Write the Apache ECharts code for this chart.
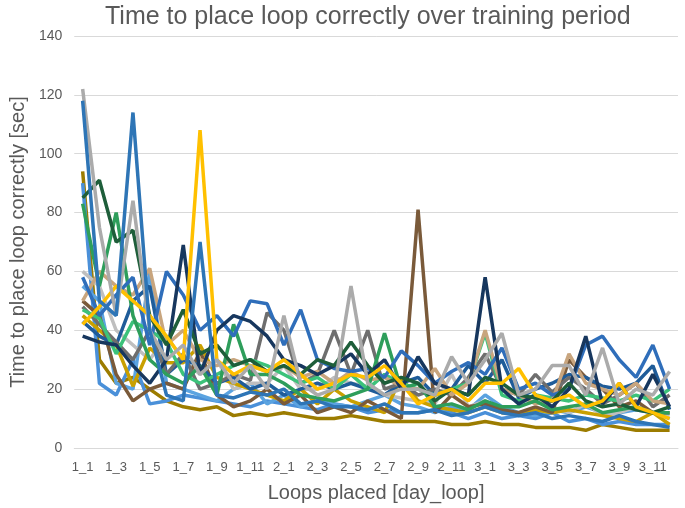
<!DOCTYPE html>
<html>
<head>
<meta charset="utf-8">
<script src="https://cdn.jsdelivr.net/npm/echarts@6/dist/echarts.min.js"></script>
<style>
    html, body { margin: 0; padding: 0; background: #fff; }
    #chart { width: 685px; height: 508px; }
</style>
</head>
<body>
<div id="chart"></div>
<script>
// categories: day_loop, 3 days x 12 loops
const days = [1, 2, 3]
const loops = [1, 2, 3, 4, 5, 6, 7, 8, 9, 10, 11, 12]
const categories = []
days.forEach((d) => loops.forEach((l) => categories.push(d + '_' + l)))

const yTicks = { min: 0, max: 140, interval: 20 }

// one array per participant (seconds)
const seriesNames = ['P1', 'P2', 'P3', 'P4', 'P5', 'P6', 'P7', 'P8', 'P9', 'P10', 'P11', 'P12', 'P13', 'P14', 'P15', 'P16', 'P17']
const seriesColors = ['#9C7C00', '#4A90D9', '#5BA3E0', '#BFBFBF', '#C9A000', '#7A5A3A', '#1F5C99', '#6E6E6E', '#3CC27A', '#C8A57E', '#2E9E5B', '#2F6EBA', '#17375E', '#1E5E3A', '#FFC000', '#ABABAB', '#2E75B6']
const p1 = [94, 30, 22, 24, 20, 16, 14, 13, 14, 11, 12, 11, 12, 11, 10, 10, 11, 10, 9, 9, 9, 9, 8, 8, 9, 8, 8, 7, 7, 7, 6, 8, 7, 6, 6, 6]
const p2 = [90, 22, 18, 30, 15, 16, 18, 17, 16, 15, 14, 16, 15, 14, 13, 15, 14, 12, 13, 12, 12, 13, 12, 10, 12, 10, 11, 10, 12, 9, 10, 8, 9, 8, 8, 8]
const p3 = [55, 50, 22, 20, 60, 22, 20, 18, 16, 20, 22, 15, 18, 14, 16, 15, 14, 16, 18, 15, 14, 12, 14, 13, 18, 14, 12, 11, 13, 12, 14, 12, 12, 13, 12, 10]
const p4 = [60, 55, 40, 35, 30, 38, 30, 25, 30, 20, 22, 22, 28, 20, 20, 24, 22, 21, 18, 17, 16, 15, 25, 14, 16, 12, 12, 12, 14, 12, 15, 11, 12, 14, 12, 11]
const p5 = [45, 40, 35, 21, 34, 29, 29, 35, 24, 22, 20, 18, 16, 20, 15, 20, 16, 14, 12, 24, 16, 14, 13, 12, 14, 12, 12, 13, 12, 13, 12, 11, 10, 9, 12, 8]
const p6 = [50, 45, 25, 16, 20, 22, 20, 33, 18, 14, 16, 20, 15, 18, 12, 14, 12, 16, 13, 10, 81, 12, 18, 14, 15, 13, 12, 14, 12, 30, 24, 20, 14, 16, 12, 12]
const p7 = [43, 38, 35, 50, 55, 25, 30, 28, 22, 24, 20, 22, 18, 20, 22, 20, 22, 20, 18, 22, 24, 18, 20, 28, 22, 30, 17, 20, 22, 25, 24, 21, 20, 22, 28, 13]
const p8 = [48, 42, 36, 30, 40, 25, 32, 20, 22, 25, 23, 46, 40, 22, 25, 40, 25, 40, 20, 22, 18, 20, 18, 24, 32, 20, 18, 25, 19, 24, 20, 15, 18, 22, 14, 18]
const p9 = [47, 44, 32, 43, 40, 36, 25, 22, 25, 28, 30, 28, 25, 22, 24, 20, 25, 20, 25, 22, 20, 18, 20, 22, 39, 18, 16, 18, 17, 16, 18, 17, 16, 18, 16, 20]
const p10 = [50, 60, 55, 52, 61, 35, 40, 30, 28, 30, 28, 26, 28, 24, 26, 22, 26, 23, 24, 21, 20, 27, 18, 22, 40, 20, 18, 15, 16, 32, 22, 20, 18, 22, 16, 15]
const p11 = [83, 55, 80, 45, 30, 25, 22, 28, 18, 42, 25, 25, 22, 18, 17, 16, 18, 20, 39, 20, 22, 14, 15, 13, 16, 14, 14, 16, 13, 14, 15, 12, 13, 14, 12, 12]
const p12 = [58, 45, 52, 58, 35, 60, 52, 40, 45, 38, 50, 49, 35, 47, 30, 27, 26, 27, 24, 33, 28, 22, 26, 29, 25, 34, 20, 22, 18, 20, 35, 38, 30, 24, 35, 20]
const p13 = [38, 36, 35, 28, 22, 30, 69, 25, 40, 45, 43, 38, 30, 28, 25, 28, 32, 25, 30, 20, 31, 22, 20, 18, 58, 20, 15, 18, 14, 20, 38, 15, 22, 14, 25, 14]
const p14 = [85, 91, 70, 74, 45, 35, 47, 32, 35, 28, 30, 26, 28, 25, 30, 28, 36, 28, 22, 24, 22, 16, 20, 18, 24, 22, 18, 17, 16, 22, 16, 14, 15, 13, 12, 14]
const p15 = [42, 48, 55, 50, 45, 38, 30, 108, 30, 25, 28, 26, 30, 25, 20, 22, 25, 24, 28, 22, 15, 18, 20, 16, 22, 22, 27, 18, 16, 18, 14, 16, 22, 14, 12, 10]
const p16 = [122, 75, 45, 84, 40, 30, 35, 25, 30, 22, 28, 20, 45, 22, 18, 20, 55, 22, 18, 20, 20, 18, 31, 22, 30, 39, 18, 20, 28, 28, 18, 34, 15, 20, 18, 26]
const p17 = [118, 50, 45, 114, 40, 18, 16, 70, 18, 17, 19, 18, 20, 15, 16, 14, 14, 13, 15, 12, 12, 13, 11, 12, 14, 12, 11, 12, 10, 11, 10, 9, 11, 9, 8, 7]
const seriesData = [p1, p2, p3, p4, p5, p6, p7, p8, p9, p10, p11, p12, p13, p14, p15, p16, p17]

const textColor = '#595959'
const fontFamily = '"Liberation Sans", Arial, sans-serif'

let option = {
    animation: false,
    color: seriesColors,
    title: {
        text: 'Time to place loop correctly over training period',
        left: 100,
        top: 0,
        textStyle: { color: textColor, fontSize: 25, fontWeight: 'normal', fontFamily: fontFamily },
    },
    grid: {
        left: 65,
        right: 7,
        top: 36,
        bottom: 60,
    },
    xAxis: {
        type: 'category',
        data: categories,
        boundaryGap: true,
        name: 'Loops placed [day_loop]',
        nameLocation: 'middle',
        nameGap: 35,
        nameTextStyle: { color: textColor, fontSize: 20, fontFamily: fontFamily },
        axisLine: { lineStyle: { color: '#D9D9D9' } },
        axisTick: { show: false },
        axisLabel: { interval: 1, color: textColor, fontSize: 13, margin: 13, fontFamily: fontFamily },
    },
    yAxis: {
        type: 'value',
        min: yTicks.min,
        max: yTicks.max,
        interval: yTicks.interval,
        name: 'Time to place loop correctly [sec]',
        nameLocation: 'middle',
        nameGap: 42,
        nameTextStyle: { color: textColor, fontSize: 20, fontFamily: fontFamily },
        axisLine: { show: false },
        axisTick: { show: false },
        axisLabel: { color: textColor, fontSize: 14, margin: 12, fontFamily: fontFamily },
        splitLine: { lineStyle: { color: '#D9D9D9', width: 1 } },
    },
    series: seriesData.map((d, i) => ({
        name: seriesNames[i],
        type: 'line',
        data: d,
        symbol: 'none',
        lineStyle: { width: 3.5 },
    })),
}

let myChart = echarts.init(document.getElementById('chart'))
myChart.setOption(option)
</script>
</body>
</html>
